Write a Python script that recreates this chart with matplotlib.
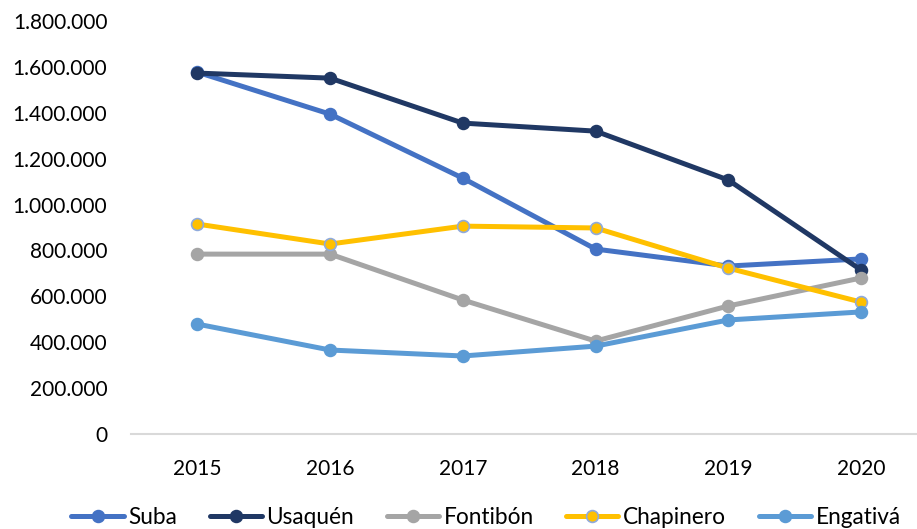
import matplotlib
matplotlib.use("Agg")
import matplotlib.pyplot as plt
from matplotlib.ticker import FuncFormatter

plt.rcParams['font.family'] = ['Lato', 'DejaVu Sans']

years = ["2015", "2016", "2017", "2018", "2019", "2020"]
suba = [1577000, 1394000, 1115000, 806000, 732000, 763000]
usaquen = [1573000, 1551000, 1355000, 1320000, 1107000, 715000]
fontibon = [784000, 784000, 584000, 405000, 558000, 680000]
chapinero = [915000, 828000, 906000, 898000, 723000, 575000]
engativa = [479000, 366000, 340000, 383000, 497000, 532000]

series = [
    ("Suba", suba, "#4472C4", "#4472C4"),
    ("Usaquén", usaquen, "#203864", "#203864"),
    ("Fontibón", fontibon, "#A5A5A5", "#A5A5A5"),
    ("Chapinero", chapinero, "#FFC000", "#8FAADC"),
    ("Engativá", engativa, "#5B9BD5", "#5B9BD5"),
]

fig = plt.figure(figsize=(9.17, 5.29), dpi=100)
ax = fig.add_axes([131/917, 1-434/529, (927.4-131)/917, (434-21)/529])

x = list(range(len(years)))
for name, vals, col, edge in series:
    ax.plot(x, vals, color=col, lw=3.6, marker='o', markersize=8.5,
            markerfacecolor=col, markeredgecolor=edge, markeredgewidth=1.2,
            label=name, solid_capstyle='round')

ax.set_xlim(-0.5, 5.5)
ax.set_ylim(0, 1800000)
ax.set_yticks(range(0, 1800001, 200000))
ax.yaxis.set_major_formatter(FuncFormatter(lambda v, p: f"{int(v):,}".replace(",", ".")))
ax.set_xticks(x)
ax.set_xticklabels(years)
for s in ['top', 'right', 'left']:
    ax.spines[s].set_visible(False)
ax.spines['bottom'].set_color('#D9D9D9')
ax.spines['bottom'].set_linewidth(1.5)
ax.tick_params(axis='both', length=0, labelsize=15, colors='#000000')
ax.tick_params(axis='y', pad=17)
ax.tick_params(axis='x', pad=18)

fig.legend(loc='center', bbox_to_anchor=(486/917, 1-517/529), ncol=5,
           frameon=False, fontsize=16.3, handlelength=2.3, handletextpad=0.2,
           columnspacing=1.45, borderpad=0, borderaxespad=0)

fig.savefig("out.png", dpi=100)
